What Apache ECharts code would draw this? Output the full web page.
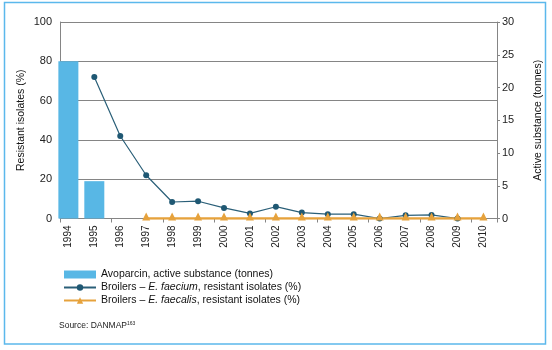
<!DOCTYPE html>
<html>
<head>
<meta charset="utf-8">
<script src="https://cdn.jsdelivr.net/npm/echarts@6/dist/echarts.min.js"></script>
<style>
  html, body { margin: 0; padding: 0; background: #fff; }
  #chart { width: 552px; height: 350px; }
</style>
</head>
<body>
<div id="chart"></div>
<script>
// data
var years = ['1994', '1995', '1996', '1997', '1998', '1999', '2000', '2001', '2002',
  '2003', '2004', '2005', '2006', '2007', '2008', '2009', '2010']
// avoparcin, tonnes (right axis)
var avoparcin = [24, 5.7, '-', '-', '-', '-', '-', '-', '-', '-', '-', '-', '-', '-', '-', '-', '-']
// resistant isolates, % (left axis)
var faecium = ['-', 72, 42, 22, 8.4, 8.8, 5.4, 2.6, 6, 3, 2.2, 2.2, 0, 1.6, 1.8, 0, '-']
var faecalis = ['-', '-', '-', 0, 0, 0, 0, 0, 0, 0, 0, 0, 0, 0, 0, 0, 0]

var leftTicks = { min: 0, max: 100, interval: 20 }
var rightTicks = { min: 0, max: 30, interval: 5 }

var font = 'Liberation Sans, Arial, sans-serif'
var gray = '#858585'
var textColor = '#222'

var chart = echarts.init(document.getElementById('chart'))

var option = {
  animation: false,
  textStyle: { fontFamily: font },
  graphic: [
    {
      type: 'rect',
      shape: { x: 4.5, y: 2.5, width: 541, height: 341.5 },
      style: { fill: 'none', stroke: '#5bb8ec', lineWidth: 1.5 },
      z: 0
    },
    {
      type: 'text',
      left: 59,
      top: 321,
      style: {
        text: '{a|Source: DANMAP}{s|163}',
        rich: {
          a: { fontSize: 8.5, fontFamily: font, fill: '#222' },
          s: { fontSize: 5, fontFamily: font, fill: '#222', verticalAlign: 'top', padding: [0, 0, 4, 0] }
        }
      }
    }
  ],
  legend: {
    orient: 'vertical',
    left: 58,
    top: 264,
    itemWidth: 32,
    itemHeight: 8,
    itemGap: 2,
    textStyle: {
      fontSize: 10.5,
      fontFamily: font,
      color: '#111',
      rich: {
        i: { fontSize: 10.5, fontFamily: font, fontStyle: 'italic', color: '#111' }
      }
    },
    formatter: function (name) {
      if (name === 'faecium') return 'Broilers \u2013 {i|E. faecium}, resistant isolates (%)'
      if (name === 'faecalis') return 'Broilers \u2013 {i|E. faecalis}, resistant isolates (%)'
      return name
    },
    data: [
      { name: 'Avoparcin, active substance (tonnes)', icon: 'rect' },
      'faecium',
      'faecalis'
    ]
  },
  grid: [
    // frame, ticks and labels of the y axes
    { left: 60, top: 22, width: 437, height: 196.5 },
    // data
    { left: 55.4, top: 22, width: 441, height: 196.5 }
  ],
  xAxis: [
    {
      type: 'category',
      gridIndex: 0,
      data: years,
      boundaryGap: true,
      axisLine: { lineStyle: { color: gray, width: 1 } },
      axisTick: { show: true, length: 4, lineStyle: { color: gray } },
      axisLabel: { show: false }
    },
    {
      type: 'category',
      gridIndex: 1,
      data: years,
      boundaryGap: true,
      axisLine: { show: false },
      axisTick: { show: false },
      axisLabel: {
        rotate: 90,
        margin: 7,
        fontSize: 10,
        color: textColor,
        fontFamily: font
      }
    }
  ],
  yAxis: [
    {
      type: 'value',
      gridIndex: 0,
      min: leftTicks.min,
      max: leftTicks.max,
      interval: leftTicks.interval,
      name: 'Resistant isolates (%)',
      nameLocation: 'middle',
      nameRotate: 90,
      nameGap: 33,
      nameMoveOverlap: false,
      nameTextStyle: { fontSize: 10.5, color: '#111', fontFamily: font },
      axisLine: { show: true, lineStyle: { color: gray } },
      axisTick: { show: false },
      axisLabel: { fontSize: 11, color: textColor, margin: 8, fontFamily: font },
      splitLine: { show: true, lineStyle: { color: gray, width: 1 } }
    },
    {
      type: 'value',
      gridIndex: 0,
      position: 'right',
      min: rightTicks.min,
      max: rightTicks.max,
      interval: rightTicks.interval,
      name: 'Active substance (tonnes)',
      nameLocation: 'middle',
      nameRotate: 90,
      nameGap: 36,
      nameMoveOverlap: false,
      nameTextStyle: { fontSize: 10.5, color: '#111', fontFamily: font },
      axisLine: { show: true, lineStyle: { color: gray } },
      axisTick: { show: true, inside: false, length: 3, lineStyle: { color: gray } },
      axisLabel: { fontSize: 11, color: textColor, margin: 5, fontFamily: font },
      splitLine: { show: false }
    },
    {
      type: 'value',
      gridIndex: 1,
      min: leftTicks.min,
      max: leftTicks.max,
      show: false
    },
    {
      type: 'value',
      gridIndex: 1,
      min: rightTicks.min,
      max: rightTicks.max,
      show: false
    }
  ],
  series: [
    {
      name: 'Avoparcin, active substance (tonnes)',
      type: 'bar',
      xAxisIndex: 1,
      yAxisIndex: 3,
      barWidth: 20,
      itemStyle: { color: '#58b7e5' },
      data: avoparcin
    },
    {
      name: 'faecium',
      type: 'line',
      xAxisIndex: 1,
      yAxisIndex: 2,
      symbol: 'circle',
      symbolSize: 6,
      lineStyle: { color: '#2a5f78', width: 1.2 },
      itemStyle: { color: '#1f5873' },
      data: faecium
    },
    {
      name: 'faecalis',
      type: 'line',
      xAxisIndex: 1,
      yAxisIndex: 2,
      symbol: 'triangle',
      symbolSize: 8,
      symbolOffset: [0, -2],
      lineStyle: { color: '#e6a23c', width: 2.5 },
      itemStyle: { color: '#e6a23c' },
      data: faecalis
    }
  ]
}

chart.setOption(option)
</script>
</body>
</html>
